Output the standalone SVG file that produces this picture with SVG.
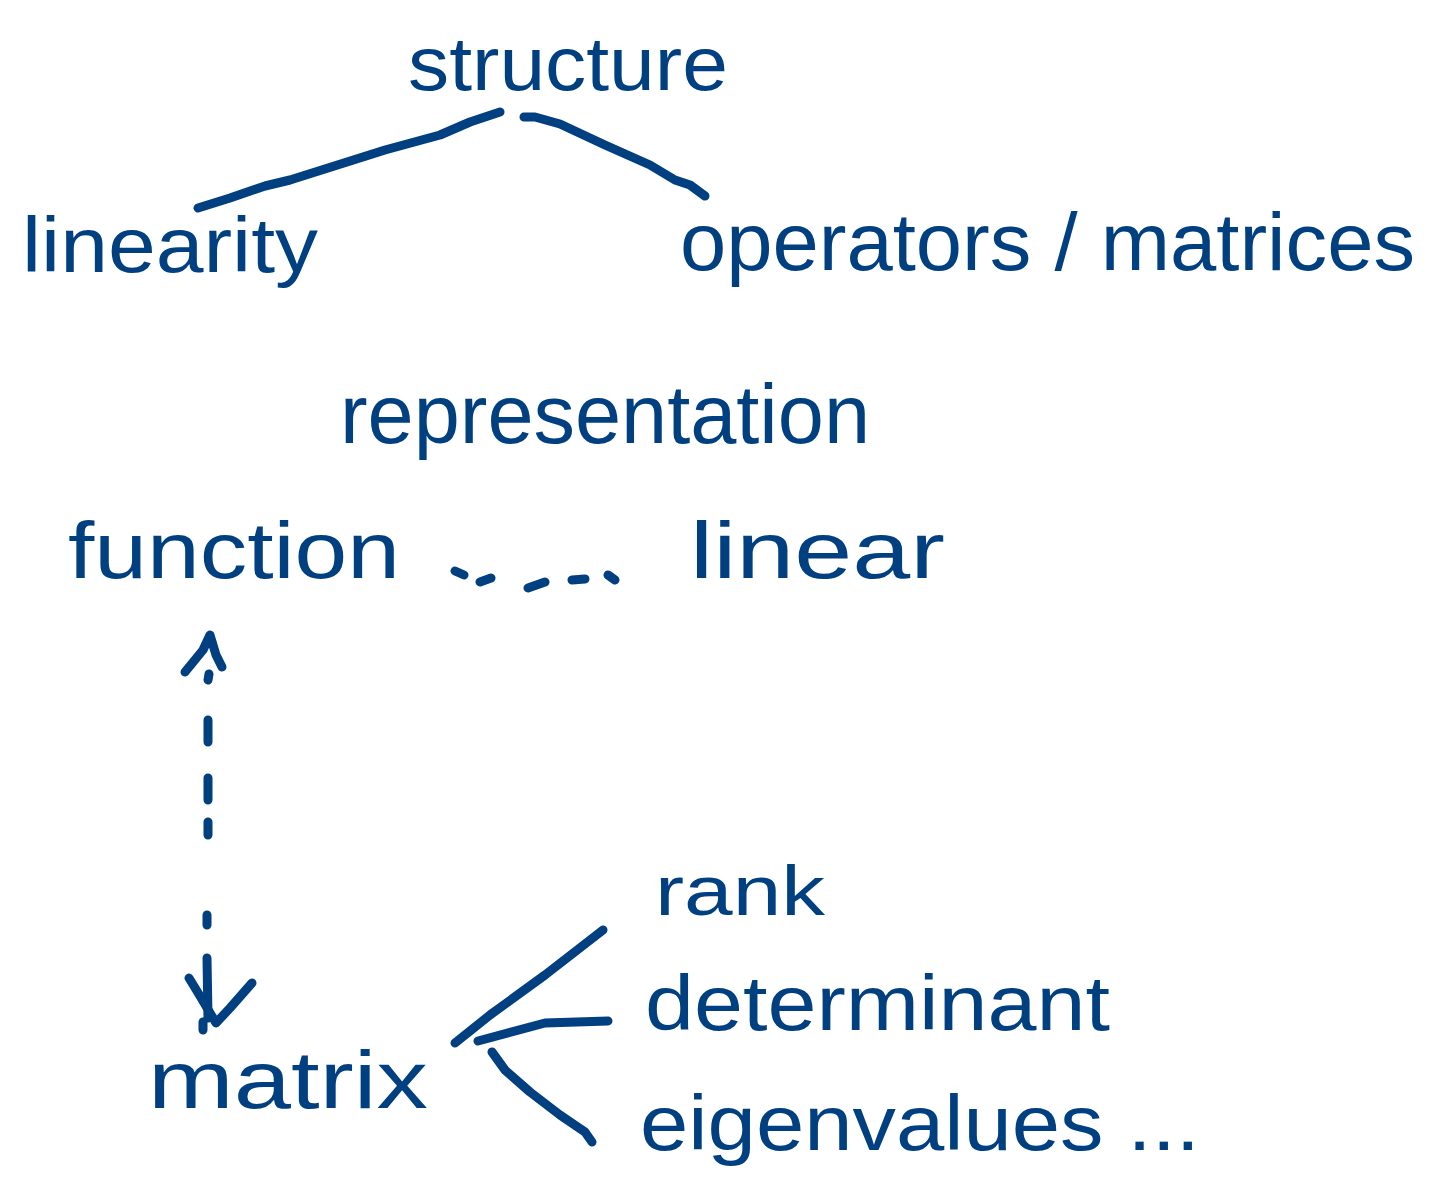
<svg xmlns="http://www.w3.org/2000/svg" width="1431" height="1191" viewBox="0 0 1431 1191">
<style>
.t{font-family:"Liberation Sans","DejaVu Sans",sans-serif;fill:#003f80;}
.c{fill:none;stroke:#003f80;stroke-width:9;stroke-linecap:round;stroke-linejoin:round;}
</style>
<rect width="1431" height="1191" fill="#ffffff"/>
<g id="node-structure"><text class="t" x="408" y="90" font-size="76" textLength="320" lengthAdjust="spacingAndGlyphs">structure</text></g>
<g id="node-linearity"><text class="t" x="22" y="272" font-size="78" textLength="296" lengthAdjust="spacingAndGlyphs">linearity</text></g>
<g id="node-operators"><text class="t" x="680" y="270" font-size="82" textLength="735" lengthAdjust="spacingAndGlyphs">operators / matrices</text></g>
<g id="node-representation"><text class="t" x="340" y="443" font-size="84" textLength="530" lengthAdjust="spacingAndGlyphs">representation</text></g>
<g id="node-function"><text class="t" x="68" y="578" font-size="80" textLength="332" lengthAdjust="spacingAndGlyphs">function</text></g>
<g id="node-linear"><text class="t" x="690" y="578" font-size="80" textLength="255" lengthAdjust="spacingAndGlyphs">linear</text></g>
<g id="node-matrix"><text class="t" x="148" y="1108" font-size="82" textLength="280" lengthAdjust="spacingAndGlyphs">matrix</text></g>
<g id="node-rank"><text class="t" x="655" y="915" font-size="70" textLength="170" lengthAdjust="spacingAndGlyphs">rank</text></g>
<g id="node-determinant"><text class="t" x="645" y="1030" font-size="78" textLength="465" lengthAdjust="spacingAndGlyphs">determinant</text></g>
<g id="node-eigenvalues"><text class="t" x="640" y="1150" font-size="78" textLength="560" lengthAdjust="spacingAndGlyphs">eigenvalues ...</text></g>
<g id="connectors">
<path class="c" d="M500,112 L470,122 L440,135 L385,150 L290,180 L265,186 L230,198 L198,208"/>
<path class="c" d="M524,117 L535,117 L560,124 L605,145 L650,165 L675,180 L690,185 L705,196"/>
<path class="c" d="M455,571 L464,575 M480,582 L491,578 M528,588 L545,582 M572,580 L585,579 M608,575 L615,580"/>
<path class="c" d="M208,680 L209,674 M208,720 L208,742 M208,778 L208,800 M208,822 L208,835 M207,915 L207,925 M207,958 L208,1018 M203,1022 L203,1030"/>
<path class="c" d="M185,672 L203,650 L210,635 L216,655 L222,667"/>
<path class="c" d="M189,978 L200,996 L216,1023 L230,1008 L252,983"/>
<path class="c" d="M455,1043 L490,1015 L545,975 L603,930"/>
<path class="c" d="M478,1041 L545,1023 L608,1021"/>
<path class="c" d="M492,1052 L505,1070 L530,1092 L560,1115 L585,1132 L592,1142"/>
</g>
</svg>
